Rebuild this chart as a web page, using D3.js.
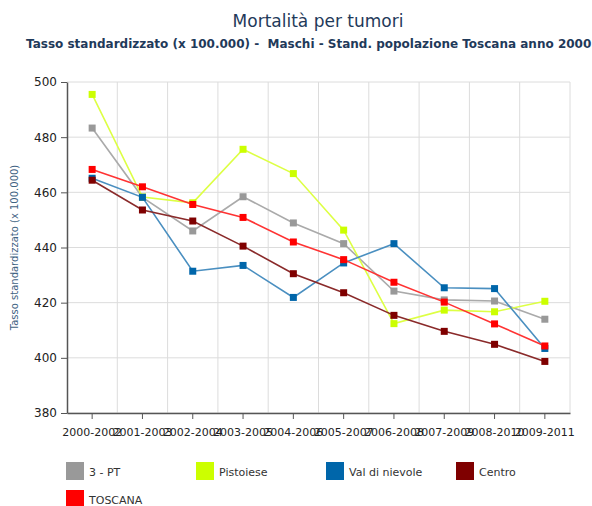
<!DOCTYPE html>
<html>
<head>
<meta charset="utf-8">
<script src="https://cdnjs.cloudflare.com/ajax/libs/d3/7.8.5/d3.min.js"></script>
<style>
  body { margin: 0; background: #fff; overflow: hidden; }
  svg { display: block; font-family: "DejaVu Sans", Verdana, sans-serif; }
</style>
</head>
<body>
<script>
// periods on the x axis
var periods = ["2000-2002", "2001-2003", "2002-2004", "2003-2005", "2004-2006",
               "2005-2007", "2006-2008", "2007-2009", "2008-2010", "2009-2011"];

var seriesNames = ["3 - PT", "Pistoiese", "Val di nievole", "Centro", "TOSCANA"];

var pt3        = [483.3, 458.2, 446.0, 458.4, 448.9, 441.4, 424.2, 421.0, 420.6, 414.0];
var pistoiese  = [495.5, 458.3, 456.2, 475.6, 466.8, 446.3, 412.4, 417.3, 416.7, 420.5];
var valNievole = [465.1, 458.2, 431.4, 433.5, 421.9, 434.4, 441.4, 425.4, 425.1, 403.4];
var centro     = [464.4, 453.6, 449.6, 440.5, 430.5, 423.6, 415.4, 409.6, 404.9, 398.7];
var toscana    = [468.3, 462.0, 455.6, 450.9, 442.0, 435.6, 427.4, 420.2, 412.3, 404.3];

var yTicks = [380, 400, 420, 440, 460, 480, 500];

var markerColors = ["#999999", "#ccff00", "#0066aa", "#7f0000", "#ff0000"];
var lineColors   = ["#aaaaaa", "#ddff44", "#4a8fc0", "#8a2a2a", "#ff3333"];

var w = 592, h = 506;
var plotLeft = 67, plotRight = 570, plotTop = 82, plotBottom = 413;

var svg = d3.select("body").append("svg")
  .attr("width", w)
  .attr("height", h);

// titles
svg.append("text")
  .attr("x", 318).attr("y", 27)
  .attr("text-anchor", "middle")
  .attr("fill", "#1f3a5a")
  .style("font-size", "17px")
  .text("Mortalità per tumori");

svg.append("text")
  .attr("x", 26).attr("y", 48)
  .attr("fill", "#1f3a5a")
  .style("font-size", "12px")
  .style("font-weight", "bold")
  .attr("xml:space", "preserve")
  .text("Tasso standardizzato (x 100.000) -  Maschi - Stand. popolazione Toscana anno 2000");

var x = d3.scaleBand().domain(periods).range([plotLeft, plotRight]);
var y = d3.scaleLinear().domain([380, 500]).range([plotBottom, plotTop]);

// grid
var grid = svg.append("g");
grid.selectAll(".hg").data(yTicks).enter().append("line")
  .attr("x1", plotLeft).attr("x2", plotRight)
  .attr("y1", function(d){ return y(d); })
  .attr("y2", function(d){ return y(d); })
  .attr("stroke", "#dcdcdc");
grid.selectAll(".vg").data(periods).enter().append("line")
  .attr("x1", function(d){ return x(d) + x.bandwidth(); })
  .attr("x2", function(d){ return x(d) + x.bandwidth(); })
  .attr("y1", plotTop).attr("y2", plotBottom)
  .attr("stroke", "#dcdcdc");

// axes
var yAxis = svg.append("g")
  .attr("transform", "translate(" + plotLeft + ",0)")
  .call(d3.axisLeft(y).tickValues(yTicks).tickSize(6).tickPadding(4).tickSizeOuter(0));
var xAxis = svg.append("g")
  .attr("transform", "translate(0," + plotBottom + ")")
  .call(d3.axisBottom(x).tickSize(6).tickPadding(9).tickSizeOuter(0));

[yAxis, xAxis].forEach(function(a){
  a.select(".domain").attr("stroke", "#555").attr("stroke-width", 1.5);
  a.selectAll(".tick line").attr("stroke", "#555");
  a.selectAll("text").attr("fill", "#222")
    .style("font-family", "'DejaVu Sans', Verdana, sans-serif");
});
yAxis.selectAll("text").style("font-size", "12px");
xAxis.selectAll("text").style("font-size", "11px");

svg.append("text")
  .attr("transform", "translate(18," + ((plotTop + plotBottom) / 2) + ") rotate(-90)")
  .attr("text-anchor", "middle")
  .attr("fill", "#3f6383")
  .style("font-size", "10px")
  .text("Tasso standardizzato (x 100.000)");

// series
var allSeries = [pt3, pistoiese, valNievole, centro, toscana];
var line = d3.line()
  .x(function(d, i){ return x(periods[i]) + x.bandwidth() / 2; })
  .y(function(d){ return y(d); });

allSeries.forEach(function(vals, s){
  var g = svg.append("g");
  g.append("path")
    .attr("d", line(vals))
    .attr("fill", "none")
    .attr("stroke", lineColors[s])
    .attr("stroke-width", 1.6);
  g.selectAll("rect").data(vals).enter().append("rect")
    .attr("x", function(d, i){ return x(periods[i]) + x.bandwidth() / 2 - 3.5; })
    .attr("y", function(d){ return y(d) - 3.5; })
    .attr("width", 7).attr("height", 7)
    .attr("fill", markerColors[s]);
});

// legend
var legend = svg.append("g");
seriesNames.forEach(function(name, i){
  var col = i % 4, row = Math.floor(i / 4);
  var lx = 66 + col * 130, ly = 462 + row * 28;
  legend.append("rect")
    .attr("x", lx).attr("y", ly)
    .attr("width", 18).attr("height", 18)
    .attr("fill", markerColors[i]);
  legend.append("text")
    .attr("x", lx + 23).attr("y", ly + 14)
    .attr("fill", "#333")
    .style("font-size", "11px")
    .text(name);
});
</script>
</body>
</html>
